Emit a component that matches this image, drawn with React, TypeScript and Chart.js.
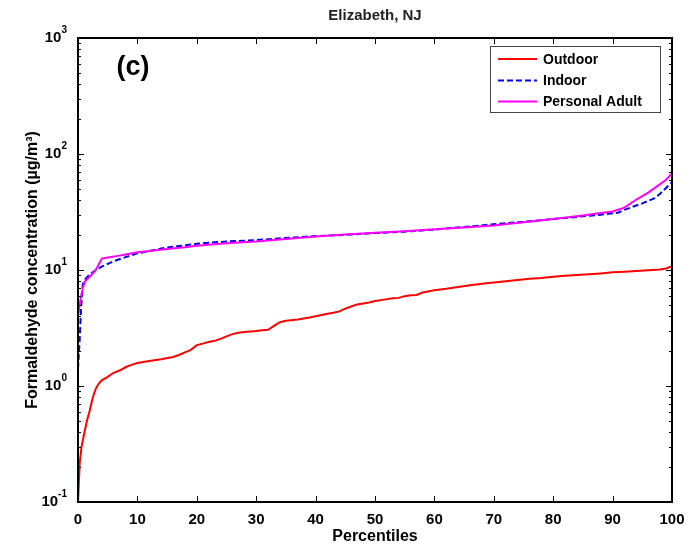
import React, { useEffect, useRef } from "react";
import { Chart, registerables } from "chart.js";

Chart.register(...registerables);

const FONT = '"Liberation Sans", Arial, Helvetica, sans-serif';

const TITLE = "Elizabeth, NJ";
const PANEL_LABEL = "(c)";
const X_TITLE = "Percentiles";
const Y_TITLE = "Formaldehyde concentration (\u00B5g/m\u00B3)";
const X_TICKS = [0, 10, 20, 30, 40, 50, 60, 70, 80, 90, 100];
const Y_DECADES = [-1, 0, 1, 2, 3];
const SERIES_NAMES = ["Outdoor", "Indoor", "Personal Adult"];

const outdoorP = [0, 0.3, 0.6, 1, 1.5, 2, 2.5, 3, 3.5, 4, 5, 6, 7, 8, 9, 10, 12, 14, 16, 17, 18, 19, 20, 21, 22, 23, 24, 25, 26, 27, 28, 30, 31, 32, 33, 34, 35, 37, 39, 41, 42, 43, 44, 45, 46, 47, 49, 50, 51, 53, 54, 55, 56, 57, 58, 60, 62, 64, 66, 68, 70, 72, 74, 76, 78, 80, 82, 84, 86, 88, 90, 92, 94, 96, 98, 99, 100];
const outdoorV = [0.1, 0.22, 0.3, 0.38, 0.5, 0.62, 0.8, 0.95, 1.05, 1.12, 1.2, 1.3, 1.36, 1.45, 1.52, 1.58, 1.64, 1.7, 1.78, 1.85, 1.95, 2.05, 2.25, 2.32, 2.4, 2.45, 2.55, 2.68, 2.8, 2.88, 2.92, 2.98, 3.02, 3.05, 3.3, 3.55, 3.65, 3.75, 3.9, 4.1, 4.2, 4.28, 4.4, 4.65, 4.85, 5.05, 5.25, 5.4, 5.5, 5.7, 5.75, 5.95, 6.05, 6.1, 6.4, 6.7, 6.9, 7.15, 7.4, 7.6, 7.8, 8.0, 8.2, 8.4, 8.55, 8.75, 8.9, 9.05, 9.2, 9.35, 9.55, 9.65, 9.8, 9.95, 10.1, 10.3, 10.8];

const indoorP = [0, 0.3, 0.5, 0.8, 1.2, 2, 3, 4, 5, 6, 8, 10, 12, 14, 16, 18, 20, 22, 25, 28, 30, 35, 40, 45, 50, 55, 60, 65, 70, 75, 80, 85, 88, 90, 91, 92, 93, 95, 97, 98, 99, 100];
const indoorV = [1.4, 2.6, 4.5, 7.5, 8.3, 9.2, 10.0, 10.7, 11.3, 11.9, 12.9, 13.9, 14.6, 15.3, 15.9, 16.3, 16.8, 17.2, 17.6, 17.9, 18.1, 18.9, 19.6, 20.1, 20.8, 21.4, 22.3, 23.5, 24.8, 26.0, 27.5, 29.0, 30.0, 30.8, 31.3, 33.0, 34.5, 37.5, 41.5, 45.5, 51, 57];

const personalP = [0, 0.4, 0.8, 1.2, 2, 3, 4, 5, 7, 8, 10, 12, 15, 18, 20, 25, 30, 35, 40, 45, 50, 55, 60, 65, 70, 75, 80, 85, 88, 90, 92, 94, 96, 98, 99, 100];
const personalV = [4.0, 5.5, 7.0, 8.0, 8.8, 10.0, 12.5, 12.8, 13.3, 13.6, 14.2, 14.6, 15.2, 15.7, 16.2, 17.0, 17.6, 18.5, 19.4, 20.2, 20.9, 21.6, 22.4, 23.2, 24.2, 25.8, 27.5, 29.5, 31.0, 32.0, 34.5, 40.5, 46.5, 55, 60, 68];

const toPoints = (p: number[], v: number[]) => p.map((x, i) => ({ x, y: v[i] }));

const decorPlugin = {
  id: "matlabDecor",
  afterDraw(chart: any) {
    const ctx: CanvasRenderingContext2D = chart.ctx;
    const { left, right, top, bottom } = chart.chartArea;
    const xs = chart.scales.x;
    const ys = chart.scales.y;
    ctx.save();

    // Axes box
    ctx.strokeStyle = "#000";
    ctx.lineWidth = 2;
    ctx.strokeRect(left, top, right - left, bottom - top);

    // X ticks (inward, top and bottom)
    ctx.lineWidth = 1;
    ctx.beginPath();
    X_TICKS.forEach((t) => {
      const px = Math.round(xs.getPixelForValue(t)) + 0.5;
      ctx.moveTo(px, bottom);
      ctx.lineTo(px, bottom - 6);
      ctx.moveTo(px, top);
      ctx.lineTo(px, top + 6);
    });
    // Y ticks (major + minor, left and right)
    Y_DECADES.forEach((d) => {
      for (let m = 1; m <= 9; m++) {
        const v = m * Math.pow(10, d);
        if (v > 1000.0001) continue;
        const py = Math.round(ys.getPixelForValue(v)) + 0.5;
        const len = m === 1 ? 6 : 3;
        ctx.moveTo(left, py);
        ctx.lineTo(left + len, py);
        ctx.moveTo(right, py);
        ctx.lineTo(right - len, py);
      }
    });
    ctx.stroke();

    // Y tick labels with superscript exponents
    ctx.fillStyle = "#000";
    ctx.textBaseline = "middle";
    Y_DECADES.forEach((d) => {
      const py = ys.getPixelForValue(Math.pow(10, d));
      const exp = String(d);
      ctx.font = `bold 10px ${FONT}`;
      const ew = ctx.measureText(exp).width;
      const xEnd = 67;
      ctx.textAlign = "left";
      ctx.fillText(exp, xEnd - ew, py - 8);
      ctx.font = `bold 15px ${FONT}`;
      ctx.textAlign = "right";
      ctx.fillText("10", xEnd - ew, py);
    });

    // Title
    ctx.font = `bold 15px ${FONT}`;
    ctx.textAlign = "center";
    ctx.fillStyle = "#222";
    ctx.fillText(TITLE, (left + right) / 2, 16);

    // Panel label
    ctx.fillStyle = "#000";
    ctx.font = `bold 27px ${FONT}`;
    ctx.fillText(PANEL_LABEL, 133, 68);

    // Legend
    const lx = 490.5, ly = 46.5, lw = 170, lh = 66;
    ctx.fillStyle = "#fff";
    ctx.fillRect(lx, ly, lw, lh);
    ctx.strokeStyle = "#444";
    ctx.lineWidth = 1;
    ctx.strokeRect(lx, ly, lw, lh);
    const rows = [59, 80.5, 101.5];
    chart.data.datasets.forEach((ds: any, i: number) => {
      ctx.strokeStyle = ds.borderColor;
      ctx.lineWidth = 2;
      ctx.setLineDash(ds.borderDash || []);
      ctx.beginPath();
      ctx.moveTo(498, rows[i]);
      ctx.lineTo(537, rows[i]);
      ctx.stroke();
      ctx.setLineDash([]);
      ctx.fillStyle = "#000";
      ctx.font = `bold 14px ${FONT}`;
      ctx.textAlign = "left";
      ctx.fillText(ds.label, 543, rows[i] + 1);
    });

    ctx.restore();
  },
};

export default function App() {
  const ref = useRef<HTMLCanvasElement>(null);

  useEffect(() => {
    if (!ref.current) return;
    const chart = new Chart(ref.current, {
      type: "line",
      data: {
        datasets: [
          {
            label: SERIES_NAMES[0],
            data: toPoints(outdoorP, outdoorV),
            borderColor: "#ff0000",
            backgroundColor: "#ff0000",
            borderWidth: 2,
            pointRadius: 0,
            tension: 0,
            order: 2,
          },
          {
            label: SERIES_NAMES[1],
            data: toPoints(indoorP, indoorV),
            borderColor: "#0000ff",
            backgroundColor: "#0000ff",
            borderWidth: 2,
            borderDash: [6, 3],
            pointRadius: 0,
            tension: 0,
            order: 1,
          },
          {
            label: SERIES_NAMES[2],
            data: toPoints(personalP, personalV),
            borderColor: "#ff00ff",
            backgroundColor: "#ff00ff",
            borderWidth: 2,
            pointRadius: 0,
            tension: 0,
            order: 0,
          },
        ],
      },
      options: {
        animation: false,
        responsive: false,
        devicePixelRatio: 1,
        layout: { padding: { top: 38, right: 24, left: 0, bottom: 0 } },
        plugins: {
          legend: { display: false },
          title: { display: false },
          tooltip: { enabled: false },
        },
        scales: {
          x: {
            type: "linear",
            min: 0,
            max: 100,
            afterBuildTicks: (s: any) => {
              s.ticks = X_TICKS.map((v) => ({ value: v }));
            },
            afterFit: (s: any) => {
              s.height = 44;
            },
            ticks: {
              color: "#000",
              font: { family: FONT, size: 15, weight: "bold" },
              padding: 9,
              maxRotation: 0,
              autoSkip: false,
            },
            grid: { display: false, drawTicks: false },
            border: { display: false },
            title: {
              display: true,
              text: X_TITLE,
              color: "#000",
              font: { family: FONT, size: 16, weight: "bold" },
              padding: { top: 0, bottom: 0 },
            },
          },
          y: {
            type: "logarithmic",
            min: 0.1,
            max: 1000,
            afterFit: (s: any) => {
              s.width = 78;
            },
            ticks: { display: false },
            grid: { display: false, drawTicks: false },
            border: { display: false },
            title: {
              display: true,
              text: Y_TITLE,
              color: "#000",
              font: { family: FONT, size: 16, weight: "bold" },
              padding: { top: 23, bottom: 0 },
            },
          },
        },
      },
      plugins: [decorPlugin],
    } as any);
    return () => chart.destroy();
  }, []);

  return (
    <div style={{ position: "fixed", left: 0, top: 0, width: 696, height: 546, background: "#fff" }}>
      <canvas ref={ref} width={696} height={546} style={{ display: "block", width: 696, height: 546 }} />
    </div>
  );
}
